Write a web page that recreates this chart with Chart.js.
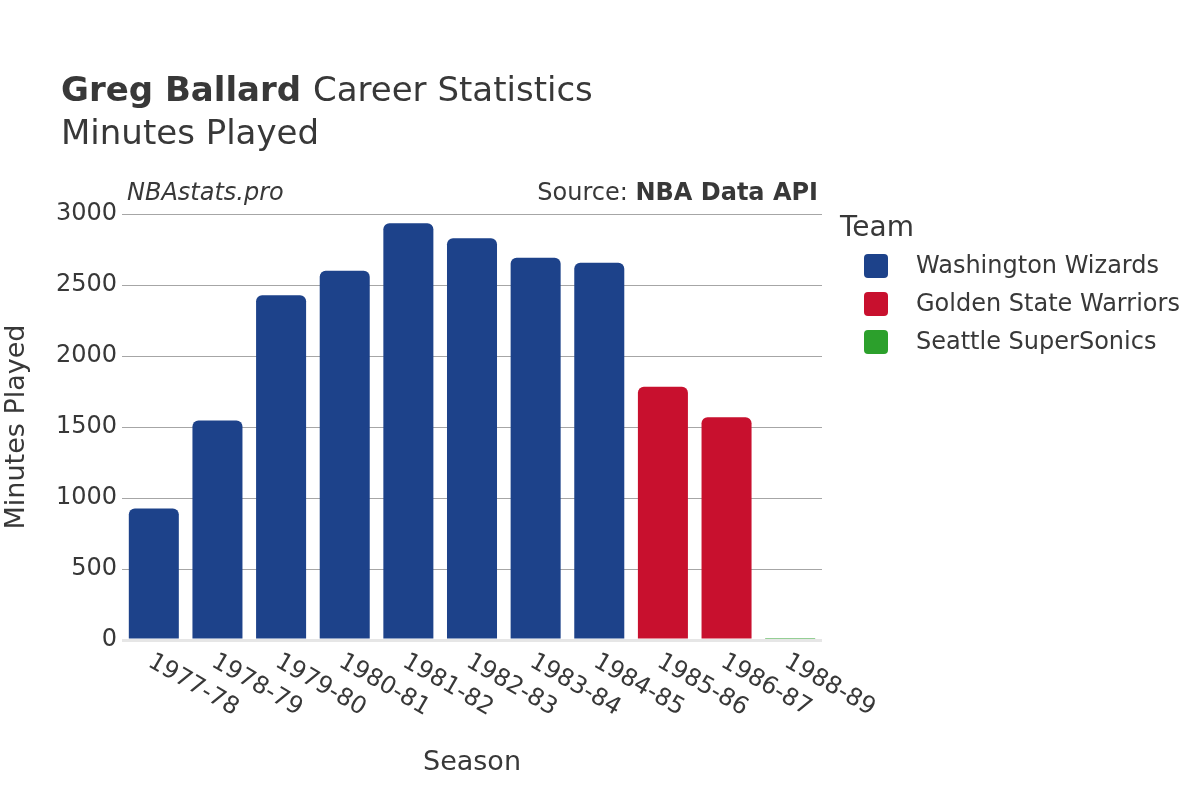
<!DOCTYPE html>
<html lang="en">
<head>
<meta charset="UTF-8">
<title>Greg Ballard Career Statistics</title>
<script src="https://cdn.jsdelivr.net/npm/chart.js"></script>
<style>
  body { margin: 0; background: #fff; }
  #wrap { width: 1200px; height: 800px; position: relative; }
</style>
</head>
<body>
<div id="wrap"><canvas id="myChart"></canvas></div>
<script>
// data
const seasons = ['1977-78', '1978-79', '1979-80', '1980-81', '1981-82', '1982-83',
                 '1983-84', '1984-85', '1985-86', '1986-87', '1988-89'];
const wizardsMinutes  = [926, 1545, 2428, 2600, 2935, 2830, 2692, 2656, null, null, null];
const warriorsMinutes = [null, null, null, null, null, null, null, null, 1783, 1569, null];
const sonicsMinutes   = [null, null, null, null, null, null, null, null, null, null, 14];
const teams = ['Washington Wizards', 'Golden State Warriors', 'Seattle SuperSonics'];
const teamColors = ['#1d428a', '#c8102e', '#2ca02c'];
const yTicks = [0, 500, 1000, 1500, 2000, 2500, 3000];

const FONT = '"DejaVu Sans", "Noto Sans", sans-serif';
const TXT = '#383838';

// titles, axis labels, rotated season labels and legend
const decorations = {
  id: 'decorations',
  afterDraw(chart) {
    const ctx = chart.ctx;
    const area = chart.chartArea;
    const xs = chart.scales.x;
    ctx.save();
    ctx.fillStyle = TXT;
    ctx.textBaseline = 'alphabetic';

    // main title
    ctx.textAlign = 'left';
    ctx.font = 'bold 34px ' + FONT;
    ctx.fillText('Greg Ballard', 61, 101);
    const w = ctx.measureText('Greg Ballard ').width;
    ctx.font = '34px ' + FONT;
    ctx.fillText('Career Statistics', 61 + w, 101);
    ctx.fillText('Minutes Played', 61, 144);

    // watermark + source
    ctx.font = 'italic 24px ' + FONT;
    ctx.fillText('NBAstats.pro', 127, 200);
    ctx.textAlign = 'right';
    ctx.font = 'bold 24px ' + FONT;
    ctx.fillText('NBA Data API', 818, 200);
    const bw = ctx.measureText('NBA Data API').width;
    ctx.font = '24px ' + FONT;
    ctx.fillText('Source: ', 818 - bw, 200);

    // axis titles
    ctx.textAlign = 'center';
    ctx.font = '27px ' + FONT;
    ctx.fillText('Season', (area.left + area.right) / 2, 770);
    ctx.save();
    ctx.translate(17, (area.top + area.bottom) / 2);
    ctx.rotate(-Math.PI / 2);
    ctx.textBaseline = 'middle';
    ctx.fillText('Minutes Played', 0, 0);
    ctx.restore();

    // season tick labels, rotated clockwise
    ctx.font = '24px ' + FONT;
    ctx.textAlign = 'left';
    ctx.textBaseline = 'middle';
    seasons.forEach((s, i) => {
      const x = xs.getPixelForTick(i);
      ctx.save();
      ctx.translate(x - 4, area.bottom + 20);
      ctx.rotate(Math.PI / 6);
      ctx.fillText(s, 0, 0);
      ctx.restore();
    });

    // legend
    ctx.textBaseline = 'alphabetic';
    ctx.font = '28px ' + FONT;
    ctx.fillText('Team', 840, 236);
    ctx.font = '24px ' + FONT;
    ctx.textBaseline = 'middle';
    teams.forEach((t, i) => {
      const y = 266 + i * 38;
      ctx.fillStyle = teamColors[i];
      ctx.beginPath();
      ctx.roundRect(864, y - 12, 24, 24, 4);
      ctx.fill();
      ctx.fillStyle = TXT;
      ctx.fillText(t, 916, y + 1);
    });
    ctx.restore();
  }
};

const ctx = document.getElementById('myChart').getContext('2d');
new Chart(ctx, {
  type: 'bar',
  data: {
    labels: seasons,
    datasets: [wizardsMinutes, warriorsMinutes, sonicsMinutes].map((vals, i) => ({
      label: teams[i],
      data: vals,
      backgroundColor: teamColors[i],
      borderRadius: c => (c.raw !== null && c.raw < 100) ? 0 : 6,
      borderSkipped: 'bottom',
      skipNull: true,
      categoryPercentage: 1,
      barPercentage: 0.786
    }))
  },
  options: {
    responsive: true,
    maintainAspectRatio: false,
    animation: false,
    layout: { padding: { top: 214, right: 378, left: 0, bottom: 0 } },
    plugins: { legend: { display: false }, tooltip: { enabled: false } },
    scales: {
      x: {
        grid: { display: false },
        border: { display: false },
        ticks: { display: false },
        afterFit(scale) { scale.height = 160; }
      },
      y: {
        min: 0,
        max: 3000,
        afterBuildTicks(scale) { scale.ticks = yTicks.map(v => ({ value: v })); },
        afterFit(scale) { scale.width = 122; },
        border: { display: false },
        grid: {
          drawTicks: false,
          color: c => c.tick.value === 0 ? '#e6e6e6' : '#a6a6a6',
          lineWidth: c => c.tick.value === 0 ? 3 : 1
        },
        ticks: {
          padding: 5,
          color: TXT,
          font: { family: FONT, size: 24, lineHeight: 1 },
          callback: v => String(v)
        }
      }
    }
  },
  plugins: [decorations]
});
</script>
</body>
</html>
